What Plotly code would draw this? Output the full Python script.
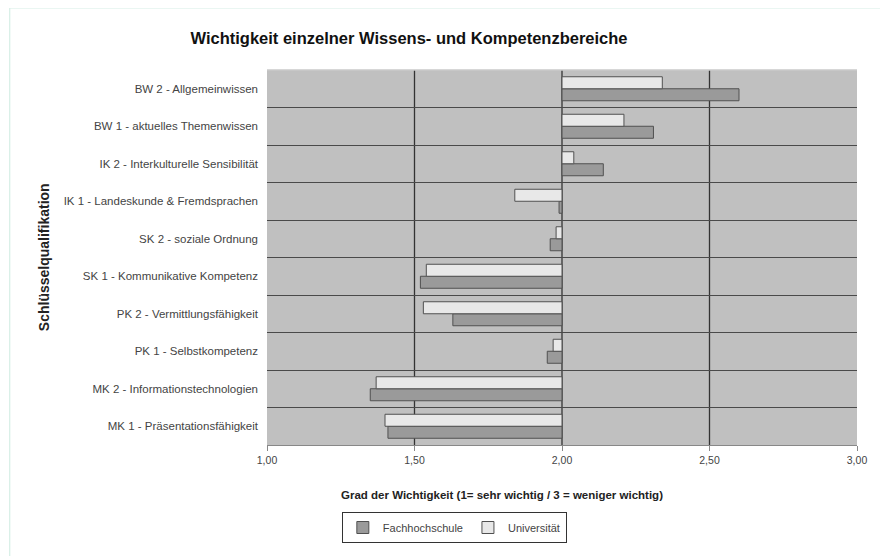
import plotly.graph_objects as go

categories = [
    "MK 1 - Präsentationsfähigkeit",
    "MK 2 - Informationstechnologien",
    "PK 1 - Selbstkompetenz",
    "PK 2 - Vermittlungsfähigkeit",
    "SK 1 - Kommunikative Kompetenz",
    "SK 2 - soziale Ordnung",
    "IK 1 - Landeskunde & Fremdsprachen",
    "IK 2 - Interkulturelle Sensibilität",
    "BW 1 - aktuelles Themenwissen",
    "BW 2 - Allgemeinwissen",
]
fachhochschule = [1.41, 1.35, 1.95, 1.63, 1.52, 1.96, 1.99, 2.14, 2.31, 2.60]
universitaet = [1.40, 1.37, 1.97, 1.53, 1.54, 1.98, 1.84, 2.04, 2.21, 2.34]
baseline = 2.0
x_ticks = [1.0, 1.5, 2.0, 2.5, 3.0]
ref_lines = [1.5, 2.0, 2.5]

font = "Liberation Sans, Arial, sans-serif"

# page offset (browser default body margin)
OFF = 8
W, H = 880, 548
PL, PR, PT, PB = 266.5 - OFF, 857 - OFF, 70 - OFF, 445 - OFF


def px(xp):
    return (xp - OFF - PL) / (PR - PL)


def py(yp):
    return (PB - (yp - OFF)) / (PB - PT)


fig = go.Figure()
fig.add_trace(go.Bar(
    name="Fachhochschule", y=categories,
    x=[v - baseline for v in fachhochschule], base=baseline,
    orientation="h",
    marker=dict(color="#9a9a9a", line=dict(color="#505050", width=1)),
))
fig.add_trace(go.Bar(
    name="Universität", y=categories,
    x=[v - baseline for v in universitaet], base=baseline,
    orientation="h",
    marker=dict(color="#e8e8e8", line=dict(color="#505050", width=1)),
))

for v in ref_lines:
    fig.add_shape(type="line", x0=v, x1=v, y0=0, y1=1, xref="x", yref="paper",
                  line=dict(color="#333333", width=1.3), layer="below")

# soft top edge of the plot area (no dark border there)
fig.add_shape(type="line", xref="paper", yref="paper", x0=0, x1=1, y0=1, y1=1,
              line=dict(color="#cacaca", width=1.5), layer="above")

# outer chart frame
fig.add_shape(type="rect", xref="paper", yref="paper",
              x0=px(9), x1=px(886), y0=py(600), y1=py(8),
              line=dict(color="#d6eee6", width=1.2), fillcolor="rgba(0,0,0,0)")

fig.update_layout(
    width=W, height=H,
    margin=dict(l=PL, r=W - PR, t=PT, b=H - PB),
    paper_bgcolor="white", plot_bgcolor="#c0c0c0",
    separators=",.",
    barmode="group", bargap=0.36, bargroupgap=0,
    font=dict(family=font, color="#333333"),
    title=dict(text="<b>Wichtigkeit einzelner Wissens- und Kompetenzbereiche</b>",
               x=(409 - OFF) / W, xanchor="center", y=1 - (38 - OFF) / H, yanchor="middle",
               font=dict(size=16.5, color="#111111")),
    xaxis=dict(range=[1, 3], tickvals=x_ticks, tickformat=".2f",
               showgrid=False, zeroline=False,
               showline=True, linecolor="#888888", linewidth=1,
               ticks="outside", ticklen=5, tickcolor="#888888",
               tickfont=dict(size=10.5, color="#444444")),
    yaxis=dict(type="category", tickson="boundaries", showgrid=True,
               gridcolor="#4a4a4a", gridwidth=1, ticks="", showline=False,
               ticklabelstandoff=8, zeroline=False,
               tickfont=dict(size=11.5, color="#444444")),
    legend=dict(orientation="h", x=px(454), xanchor="center",
                y=py(512), yanchor="top",
                bordercolor="#333333", borderwidth=1, bgcolor="white",
                font=dict(size=11, color="#444444"), traceorder="normal",
                itemwidth=30),
    showlegend=True,
)

fig.add_annotation(text="<b>Grad der Wichtigkeit (1= sehr wichtig / 3 = weniger wichtig)</b>",
                   xref="paper", yref="paper",
                   x=px(502), y=py(495),
                   xanchor="center", yanchor="middle", showarrow=False,
                   font=dict(size=11.5, color="#222222"))
fig.add_annotation(text="<b>Schlüsselqualifikation</b>",
                   xref="paper", yref="paper",
                   x=px(43), y=0.5, textangle=-90,
                   xanchor="center", yanchor="middle", showarrow=False,
                   font=dict(size=14, color="#222222"))

fig.write_html("out.html")
